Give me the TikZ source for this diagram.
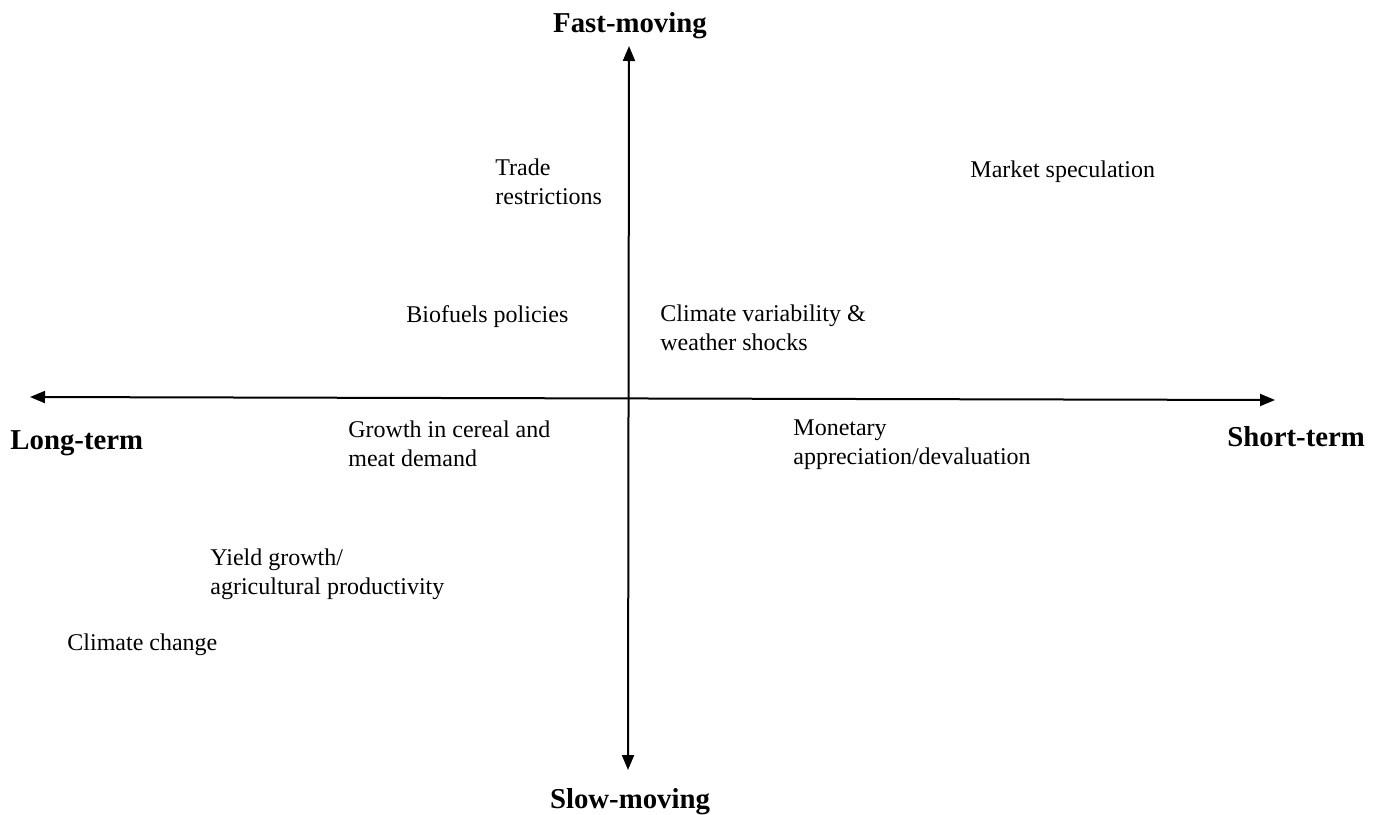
\documentclass[tikz,border=0pt]{standalone}
\usepackage{fontspec}
\setmainfont{Liberation Serif}
\usetikzlibrary{arrows.meta}

\begin{document}
\begin{tikzpicture}[
    x=0.5pt, y=-0.5pt,
    font=\fontsize{12}{14.5}\selectfont,
    factor/.style={
        anchor=base west,
        align=left,
        inner sep=0pt
    },
    pole/.style={
        anchor=base,
        inner sep=0pt,
        font=\fontsize{14.4}{17}\selectfont\bfseries
    },
    axis/.style={{Triangle[length=7.5pt, width=6pt]}-{Triangle[length=7.5pt, width=6pt]}, line width=1pt, draw=black}
]
\useasboundingbox (0,0) rectangle (1384,814);

% axes
\coordinate (fast) at (629,46);
\coordinate (slow) at (628,770);
\coordinate (long) at (30,397);
\coordinate (short) at (1275,400);

\draw[axis] (slow) -- (fast);
\draw[axis] (long) -- (short);

\node[pole] (fastlabel) at (630,32) {Fast-moving};
\node[pole] (slowlabel) at (630,808) {Slow-moving};
\node[pole, anchor=base west] (longlabel) at (10,449) {Long-term};
\node[pole, anchor=base west] (shortlabel) at (1227,446) {Short-term};

% drivers (base = last line)
\node[factor] (trade) at (495,204) {Trade\\restrictions};
\node[factor] (speculation) at (970,177) {Market speculation};
\node[factor] (biofuels) at (406,322) {Biofuels policies};
\node[factor] (weather) at (660,350) {Climate variability \&\\weather shocks};
\node[factor] (demand) at (348,466) {Growth in cereal and\\meat demand};
\node[factor] (monetary) at (793,464) {Monetary\\appreciation/devaluation};
\node[factor] (yield) at (210,594) {Yield growth/\\agricultural productivity};
\node[factor] (climate) at (67,650) {Climate change};
\end{tikzpicture}
\end{document}
